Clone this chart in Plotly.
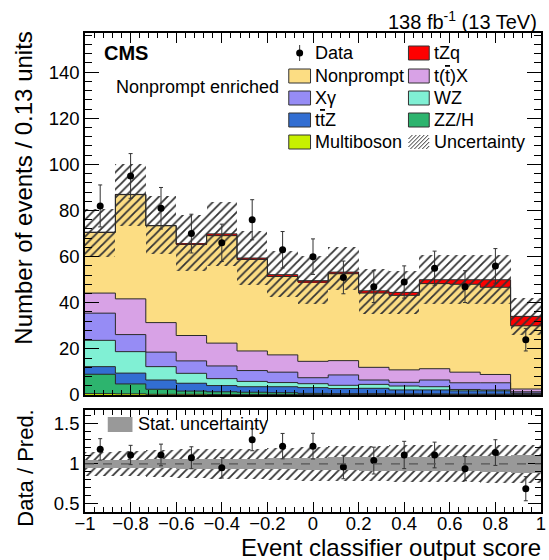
import numpy as np
import plotly.graph_objects as go

# ---------------- data ----------------
n_bins = 15
edges = np.linspace(-1.0, 1.0, n_bins + 1)
centers = 0.5 * (edges[:-1] + edges[1:])
bw = edges[1] - edges[0]

multiboson = [0.6, 0.5, 0.3, 0.3, 0.2, 0.2, 0.2, 0.2, 0.2, 0.2, 0.2, 0.2, 0.2, 0.2, 0.1]
zz_h       = [8.4, 4.3, 2.2, 1.4, 1.2, 1.0, 0.8, 0.5, 0.4, 0.4, 0.3, 0.3, 0.2, 0.2, 0.2]
ttz        = [3.3, 4.7, 4.0, 3.4, 2.7, 2.4, 2.6, 2.5, 2.2, 2.3, 1.7, 1.7, 1.4, 1.4, 0.4]
wz         = [11.4, 9.3, 5.8, 4.3, 3.0, 2.3, 1.8, 1.7, 1.4, 1.7, 1.7, 1.4, 0.6, 0.4, 0.1]
xgamma     = [11.8, 7.4, 6.3, 5.4, 5.5, 4.7, 4.5, 2.6, 4.5, 1.9, 1.6, 2.9, 2.9, 3.1, 0.6]
ttx        = [8.7, 15.5, 12.8, 11.0, 9.9, 8.5, 7.5, 7.1, 6.2, 5.5, 5.4, 4.9, 4.6, 3.6, 1.2]
nonprompt  = [26.3, 45.2, 42.0, 39.6, 46.6, 39.7, 34.0, 34.4, 37.7, 32.2, 32.3, 36.9, 38.1, 37.8, 27.4]
tzq        = [0.1, 0.1, 0.1, 0.1, 0.8, 0.6, 0.8, 0.6, 0.7, 1.0, 1.3, 1.7, 2.0, 3.3, 4.1]

unc_high = [80.7, 100.4, 86.2, 78.0, 83.6, 71.0, 62.3, 60.1, 64.2, 54.6, 53.9, 60.6, 60.6, 60.6, 42.0]
unc_low  = [59.9, 73.2, 61.2, 53.6, 56.1, 47.8, 42.3, 39.6, 45.7, 35.2, 35.1, 39.4, 39.4, 39.4, 26.1]

data     = [82, 95, 81, 70, 66, 76, 63, 60, 51, 47, 49, 55, 47, 56, 24]
data_err = [9.1, 9.7, 9.0, 8.4, 8.1, 8.7, 7.9, 7.7, 7.1, 6.9, 7.0, 7.4, 6.9, 7.5, 4.9]

ratio     = [1.18, 1.11, 1.11, 1.075, 0.95, 1.30, 1.22, 1.22, 0.96, 1.04, 1.11, 1.11, 0.94, 1.14, 0.69]
ratio_err = [0.133, 0.12, 0.135, 0.137, 0.127, 0.137, 0.158, 0.16, 0.146, 0.167, 0.17, 0.16, 0.15, 0.16, 0.15]
stat_rel  = [0.05, 0.05, 0.055, 0.06, 0.06, 0.065, 0.07, 0.075, 0.08, 0.085, 0.09, 0.09, 0.095, 0.1, 0.11]
syst_rel  = [0.15, 0.155, 0.17, 0.18, 0.19, 0.19, 0.2, 0.21, 0.22, 0.22, 0.23, 0.23, 0.23, 0.24, 0.24]

TBAR = '<span style="text-decoration:overline">t</span>'
# name, legend label, values, colour (stack from bottom to top)
processes = [
    ("Multiboson", "Multiboson", multiboson, "#C8F000"),
    ("ZZ/H", "ZZ/H", zz_h, "#2DB46E"),
    ("ttZ", "t" + TBAR + "Z", ttz, "#326ED2"),
    ("WZ", "WZ", wz, "#80F0D4"),
    ("Xgamma", "X\u03b3", xgamma, "#968CF5"),
    ("ttX", "t(" + TBAR + ")X", ttx, "#D8A2E6"),
    ("Nonprompt", "Nonprompt", nonprompt, "#FCDD83"),
    ("tZq", "tZq", tzq, "#FF0000"),
]
colour = {key: col for key, _, _, col in processes}
label_of = {key: lab for key, lab, _, _ in processes}
label_of["Data"] = "Data"
label_of["Uncertainty"] = "Uncertainty"

# legend layout: two columns, five rows
legend_left = ["Data", "Nonprompt", "Xgamma", "ttZ", "Multiboson"]
legend_right = ["tZq", "ttX", "WZ", "ZZ/H", "Uncertainty"]

HATCH = "#333333"
fig = go.Figure()

# stacked histogram as overlaid bars with explicit bases
base = np.zeros(n_bins)
tops = []
for key, lab, vals, col in processes:
    v = np.array(vals, dtype=float)
    fig.add_trace(go.Bar(
        x=centers, y=v, base=base.copy(), width=bw, name=key,
        marker=dict(color=col, line=dict(width=0)), opacity=1,
        showlegend=False, xaxis="x", yaxis="y", hoverinfo="skip",
    ))
    base = base + v
    tops.append(base.copy())

# step outlines for each stack boundary
for t in tops:
    fig.add_trace(go.Scatter(
        x=edges, y=np.append(t, t[-1]), mode="lines",
        line=dict(shape="hv", color="#2a2a2a", width=1),
        showlegend=False, hoverinfo="skip", xaxis="x", yaxis="y",
    ))

# uncertainty band (hatched)
uh = np.array(unc_high)
ul = np.array(unc_low)
fig.add_trace(go.Bar(
    x=centers, y=uh - ul, base=ul, width=bw, name="Uncertainty",
    marker=dict(color="rgba(0,0,0,0)", line=dict(width=0),
                pattern=dict(shape="/", fgcolor=HATCH, bgcolor="rgba(0,0,0,0)",
                             size=6, solidity=0.3, fgopacity=1)),
    showlegend=False, xaxis="x", yaxis="y", hoverinfo="skip",
))

# data points
fig.add_trace(go.Scatter(
    x=centers, y=data, mode="markers", name="Data",
    marker=dict(color="black", size=7),
    error_y=dict(type="data", array=data_err, color="#333333", thickness=1, width=2),
    showlegend=False, xaxis="x", yaxis="y",
))

# ---------------- ratio panel ----------------
syst = np.array(syst_rel)
stat = np.array(stat_rel)
fig.add_trace(go.Bar(
    x=centers, y=2 * syst, base=1 - syst, width=bw, showlegend=False,
    marker=dict(color="rgba(0,0,0,0)", line=dict(width=0),
                pattern=dict(shape="/", fgcolor=HATCH, bgcolor="rgba(0,0,0,0)",
                             size=6, solidity=0.3, fgopacity=1)),
    xaxis="x2", yaxis="y2", hoverinfo="skip",
))
fig.add_trace(go.Bar(
    x=centers, y=2 * stat, base=1 - stat, width=bw, name="Stat. uncertainty",
    marker=dict(color="#999999", line=dict(width=0)), opacity=1,
    showlegend=False, xaxis="x2", yaxis="y2", hoverinfo="skip",
))
fig.add_trace(go.Scatter(
    x=centers, y=ratio, mode="markers", showlegend=False,
    marker=dict(color="black", size=7),
    error_y=dict(type="data", array=ratio_err, color="#333333", thickness=1, width=2),
    xaxis="x2", yaxis="y2",
))

# ---------------- layout helpers ----------------
W, H = 549, 560
ML, MR, MT, MB = 85, 3, 33, 48
PW, PH = W - ML - MR, H - MT - MB


def px_x(px):
    return (px - ML) / PW


def px_y(py):
    return (H - MB - py) / PH


FONT = "Liberation Sans, Arial, Helvetica, sans-serif"
main_bottom = px_y(395)
ratio_top = px_y(410)

shapes = []
annotations = []


def add_box(x0, x1, y0, y1, fill, outline=True):
    shapes.append(dict(type="rect", xref="paper", yref="paper",
                       x0=px_x(x0), x1=px_x(x1), y0=px_y(y1), y1=px_y(y0),
                       fillcolor=fill,
                       line=dict(color="#333333", width=1 if outline else 0)))


def add_hatch(x0, x1, y0, y1, step=4):
    h = y1 - y0
    k = x0 - h
    while k < x1:
        sx, sy = k, y1
        ex, ey = k + h, y0
        if sx < x0:
            d = x0 - sx
            sx, sy = x0, y1 - d
        if ex > x1:
            d = ex - x1
            ex, ey = x1, y0 + d
        if ex > sx:
            shapes.append(dict(type="line", xref="paper", yref="paper",
                               x0=px_x(sx), y0=px_y(sy), x1=px_x(ex), y1=px_y(ey),
                               line=dict(color=HATCH, width=1)))
        k += step


def add_text(text, x, y, size=18, anchor="left"):
    annotations.append(dict(text=text, x=px_x(x), y=px_y(y), xref="paper", yref="paper",
                            xanchor=anchor, yanchor="middle", showarrow=False,
                            font=dict(size=size)))


row_y = [53, 76, 98, 120, 142]
# left column
for key, yc in zip(legend_left, row_y):
    if key == "Data":
        shapes.append(dict(type="line", xref="paper", yref="paper",
                           x0=px_x(302), x1=px_x(302), y0=px_y(yc - 8), y1=px_y(yc + 8),
                           line=dict(color="#333333", width=1)))
        shapes.append(dict(type="circle", xref="paper", yref="paper",
                           xsizemode="pixel", ysizemode="pixel",
                           xanchor=px_x(302), yanchor=px_y(yc),
                           x0=-3.5, x1=3.5, y0=-3.5, y1=3.5,
                           fillcolor="black", line=dict(color="black", width=0)))
    else:
        add_box(291, 313, yc - 7, yc + 7, colour[key])
    add_text(label_of[key], 316, yc)
# right column
for key, yc in zip(legend_right, row_y):
    if key == "Uncertainty":
        add_hatch(412, 433, yc - 7, yc + 7)
    else:
        add_box(412, 433, yc - 7, yc + 7, colour[key])
    add_text(label_of[key], 436, yc)

# ratio legend
add_box(108, 133, 417, 432, "#999999", outline=False)
add_text("Stat. uncertainty", 137, 424)

# text labels
add_text("<b>CMS</b>", 102, 53, size=20)
add_text("Nonprompt enriched", 114, 87, size=18)
add_text("138 fb<sup>-1</sup> (13 TeV)", 544, 20, size=20, anchor="right")
annotations.append(dict(text="Number of events / 0.13 units", x=px_x(23), y=px_y(188),
                        xref="paper", yref="paper", xanchor="center", yanchor="middle",
                        textangle=-90, showarrow=False, font=dict(size=24)))
annotations.append(dict(text="Data / Pred.", x=px_x(24), y=px_y(468),
                        xref="paper", yref="paper", xanchor="center", yanchor="middle",
                        textangle=-90, showarrow=False, font=dict(size=22)))
annotations.append(dict(text="Event classifier output score", x=px_x(548), y=px_y(547),
                        xref="paper", yref="paper", xanchor="right", yanchor="middle",
                        showarrow=False, font=dict(size=24)))

# dashed unity line in ratio panel
shapes.append(dict(type="line", xref="x2 domain", x0=0, x1=1, yref="y2", y0=1, y1=1,
                   line=dict(color="#555555", width=1.2, dash="dash"), layer="above"))

axis_common = dict(showline=True, linecolor="black", linewidth=1.5, mirror="allticks",
                   ticks="inside", tickcolor="black", tickwidth=1,
                   showgrid=False, zeroline=False)

fig.update_layout(
    width=W, height=H,
    margin=dict(l=ML, r=MR, t=MT, b=MB),
    paper_bgcolor="white", plot_bgcolor="white",
    barmode="overlay", bargap=0, showlegend=False,
    font=dict(family=FONT, size=18, color="black"),
    xaxis=dict(domain=[0, 1], anchor="y", range=[-1, 1], tick0=0, dtick=0.2, ticklen=10,
               showticklabels=False,
               minor=dict(dtick=0.04, tick0=0, ticklen=5, ticks="inside", tickcolor="black"),
               **axis_common),
    yaxis=dict(domain=[main_bottom, 1], anchor="x", range=[0, 157], tick0=0, dtick=20, ticklen=14,
               tickfont=dict(size=18.5),
               minor=dict(dtick=4, tick0=0, ticklen=7, ticks="inside", tickcolor="black"),
               **axis_common),
    xaxis2=dict(domain=[0, 1], anchor="y2", range=[-1, 1], tick0=0, dtick=0.2, ticklen=10,
                tickfont=dict(size=18.5), ticklabeloverflow="allow", ticklabelstandoff=-6,
                minor=dict(dtick=0.04, tick0=0, ticklen=5, ticks="inside", tickcolor="black"),
                **axis_common),
    yaxis2=dict(domain=[0, ratio_top], anchor="x2", range=[0.4, 1.67],
                tickvals=[0.5, 1, 1.5], ticktext=["0.5", "1", "1.5"], ticklen=13,
                tickfont=dict(size=18.5),
                minor=dict(dtick=0.1, tick0=0, ticklen=6, ticks="inside", tickcolor="black"),
                **axis_common),
    shapes=shapes,
    annotations=annotations,
)

fig.write_html("out.html")
